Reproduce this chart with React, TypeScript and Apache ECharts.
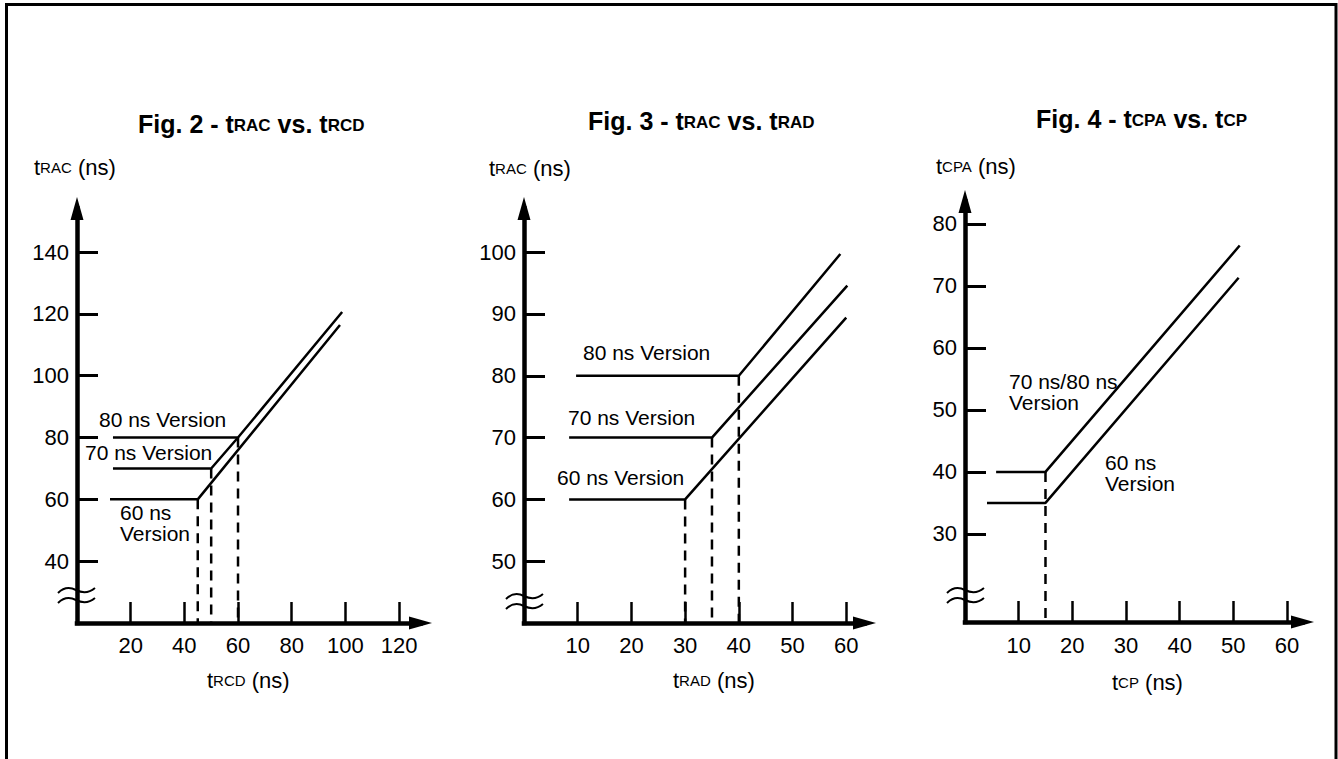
import React, { useEffect, useRef } from 'react';
import * as echarts from 'echarts';

const FONT = "'Liberation Sans', Arial, Helvetica, sans-serif";

// ---------- Fig. 2 : tRAC vs. tRCD ----------
const fig2XTicks = [20, 40, 60, 80, 100, 120];
const fig2YTicks = [40, 60, 80, 100, 120, 140];
const fig2XRange = [0, 128];
const fig2YRange = [20, 154.1];
const fig2Line60 = [[12.3, 60], [45, 60], [98, 116.4]];
const fig2Line70 = [[13.4, 70], [50, 70], [60, 80]];
const fig2Line80 = [[13.4, 80], [60, 80], [98.8, 120.6]];
const fig2DropX = [45, 50, 60];
const fig2DropY = [60, 70, 80];

// ---------- Fig. 3 : tRAC vs. tRAD ----------
const fig3XTicks = [10, 20, 30, 40, 50, 60];
const fig3YTicks = [50, 60, 70, 80, 90, 100];
const fig3XRange = [0, 63.4];
const fig3YRange = [40, 107.07];
const fig3Line60 = [[8.4, 60], [30, 60], [60, 89.4]];
const fig3Line70 = [[8.4, 70], [35, 70], [60.2, 94.6]];
const fig3Line80 = [[9.7, 80], [40, 80], [58.9, 99.7]];
const fig3DropX = [30, 35, 40];
const fig3DropY = [60, 70, 80];

// ---------- Fig. 4 : tCPA vs. tCP ----------
const fig4XTicks = [10, 20, 30, 40, 50, 60];
const fig4YTicks = [30, 40, 50, 60, 70, 80];
const fig4XRange = [0, 62.9];
const fig4YRange = [15.8, 83.6];
const fig4Line7080 = [[5.8, 40], [15, 40], [51.2, 76.5]];
const fig4Line60 = [[4.1, 35], [15, 35], [51, 71.3]];
const fig4DropX = [15];
const fig4DropY = [40];

const BREAK_PATH =
  'M0,6 C6,0 12,0 18,3 C24,6 31,6 37,1 M0,16 C6,10 12,10 18,13 C24,16 31,16 37,11';

let breakRegistered = false;
function registerBreak() {
  if (breakRegistered) return;
  const Cls = (echarts.graphic as any).extendPath(BREAK_PATH, {});
  (echarts.graphic as any).registerShape('axisbreak', Cls);
  breakRegistered = true;
}

function makeXAxis(gi: number, range: number[], ticks: number[], margin: number) {
  return {
    type: 'value',
    gridIndex: gi,
    min: range[0],
    max: range[1],
    splitLine: { show: false },
    axisLine: {
      show: true,
      onZero: false,
      symbol: ['none', 'triangle'],
      symbolSize: [13, 23],
      lineStyle: { color: '#000', width: 4.5, cap: 'square' },
    },
    axisTick: {
      show: true,
      inside: true,
      length: 21,
      customValues: ticks,
      lineStyle: { color: '#000', width: 2.5 },
    },
    axisLabel: {
      show: true,
      customValues: ticks,
      margin,
      color: '#000',
      fontSize: 22,
      fontFamily: FONT,
    },
  };
}

function makeYAxis(gi: number, range: number[], ticks: number[]) {
  return {
    type: 'value',
    gridIndex: gi,
    min: range[0],
    max: range[1],
    splitLine: { show: false },
    axisLine: {
      show: true,
      onZero: false,
      symbol: ['none', 'triangle'],
      symbolSize: [13, 23],
      lineStyle: { color: '#000', width: 4.5, cap: 'square' },
    },
    axisTick: {
      show: true,
      inside: true,
      length: 21,
      customValues: ticks,
      lineStyle: { color: '#000', width: 3 },
    },
    axisLabel: {
      show: true,
      customValues: ticks,
      margin: 8,
      color: '#000',
      fontSize: 22,
      fontFamily: FONT,
    },
  };
}

function solid(data: number[][], gi: number) {
  return {
    type: 'line',
    xAxisIndex: gi,
    yAxisIndex: gi,
    data,
    symbol: 'none',
    silent: true,
    lineStyle: { color: '#000', width: 2.5 },
    z: 3,
  };
}

function drops(xs: number[], ys: number[], bottom: number, gi: number) {
  return xs.map((x, i) => ({
    type: 'line',
    xAxisIndex: gi,
    yAxisIndex: gi,
    data: [[x, ys[i]], [x, bottom]],
    symbol: 'none',
    silent: true,
    lineStyle: { color: '#000', width: 2.5, type: [10, 7] },
    z: 2,
  }));
}

function richTitle(x: number, y: number, parts: string[], big: number, small: number, bold: boolean) {
  const text = parts.map((p, i) => `{${i % 2 === 0 ? 'm' : 's'}|${p}}`).join('');
  const lift = 3;
  return {
    type: 'text',
    x,
    y,
    silent: true,
    style: {
      text,
      align: 'left',
      verticalAlign: 'middle',
      fill: '#000',
      rich: {
        m: {
          fontSize: big,
          fontWeight: bold ? 'bold' : 'normal',
          fontFamily: FONT,
          fill: '#000',
          lineHeight: big + 4,
          verticalAlign: 'bottom',
        },
        s: {
          fontSize: small,
          fontWeight: bold ? 'bold' : 'normal',
          fontFamily: FONT,
          fill: '#000',
          lineHeight: small + 1,
          padding: [0, 0, lift, 0],
          verticalAlign: 'bottom',
        },
      },
    },
  };
}

function plainText(x: number, y: number, text: string) {
  return {
    type: 'text',
    x,
    y,
    silent: true,
    style: {
      text,
      align: 'left',
      verticalAlign: 'middle',
      fill: '#000',
      fontSize: 21,
      fontFamily: FONT,
      lineHeight: 21,
    },
  };
}

function breakMark(x: number, y: number) {
  return {
    type: 'axisbreak',
    x,
    y,
    silent: true,
    style: { stroke: '#000', fill: 'none', lineWidth: 2 },
    z: 10,
  };
}

export default function App() {
  const ref = useRef<HTMLDivElement>(null);

  useEffect(() => {
    if (!ref.current) return;
    registerBreak();
    const chart = echarts.init(ref.current, null, { renderer: 'svg' });

    const option: any = {
      animation: false,
      backgroundColor: '#ffffff',
      textStyle: { fontFamily: FONT, color: '#000' },
      grid: [
        { left: 77, top: 208.5, width: 343.5, height: 414.5, outerBoundsMode: 'none' },
        { left: 524, top: 208.5, width: 340.5, height: 414.5, outerBoundsMode: 'none' },
        { left: 965, top: 201.5, width: 337.5, height: 420.5, outerBoundsMode: 'none' },
      ],
      xAxis: [
        makeXAxis(0, fig2XRange, fig2XTicks, 11),
        makeXAxis(1, fig3XRange, fig3XTicks, 11),
        makeXAxis(2, fig4XRange, fig4XTicks, 12),
      ],
      yAxis: [
        makeYAxis(0, fig2YRange, fig2YTicks),
        makeYAxis(1, fig3YRange, fig3YTicks),
        makeYAxis(2, fig4YRange, fig4YTicks),
      ],
      series: [
        solid(fig2Line60, 0),
        solid(fig2Line70, 0),
        solid(fig2Line80, 0),
        ...drops(fig2DropX, fig2DropY, fig2YRange[0], 0),
        solid(fig3Line60, 1),
        solid(fig3Line70, 1),
        solid(fig3Line80, 1),
        ...drops(fig3DropX, fig3DropY, fig3YRange[0], 1),
        solid(fig4Line7080, 2),
        solid(fig4Line60, 2),
        ...drops(fig4DropX, fig4DropY, fig4YRange[0], 2),
      ],
      graphic: {
        elements: [
          {
            type: 'polyline',
            silent: true,
            shape: { points: [[6.5, 760], [6.5, 4.5], [1336, 4.5], [1336, 760]] },
            style: { stroke: '#000', lineWidth: 3, fill: 'none' },
          },
          richTitle(138, 122, ['Fig. 2 - t', 'RAC', ' vs. t', 'RCD'], 25, 17, true),
          richTitle(588, 119, ['Fig. 3 - t', 'RAC', ' vs. t', 'RAD'], 25, 17, true),
          richTitle(1036, 117, ['Fig. 4 - t', 'CPA', ' vs. t', 'CP'], 25, 17, true),
          richTitle(34, 165, ['t', 'RAC', ' (ns)'], 22, 15, false),
          richTitle(489, 166, ['t', 'RAC', ' (ns)'], 22, 15, false),
          richTitle(936, 164, ['t', 'CPA', ' (ns)'], 22, 15, false),
          richTitle(207, 678, ['t', 'RCD', ' (ns)'], 22, 15, false),
          richTitle(673, 678, ['t', 'RAD', ' (ns)'], 22, 15, false),
          richTitle(1112, 680, ['t', 'CP', ' (ns)'], 22, 15, false),
          plainText(99, 419, '80 ns Version'),
          plainText(85, 452, '70 ns Version'),
          plainText(120, 523, '60 ns\nVersion'),
          plainText(583, 352, '80 ns Version'),
          plainText(568, 417, '70 ns Version'),
          plainText(557, 477, '60 ns Version'),
          plainText(1009, 392, '70 ns/80 ns\nVersion'),
          plainText(1105, 473, '60 ns\nVersion'),
          breakMark(58, 587),
          breakMark(506, 593),
          breakMark(947, 587),
        ],
      },
    };

    chart.setOption(option);
    return () => {
      chart.dispose();
    };
  }, []);

  return (
    <div
      ref={ref}
      style={{ position: 'absolute', left: 0, top: 0, width: 1338, height: 759, background: '#fff' }}
    />
  );
}
